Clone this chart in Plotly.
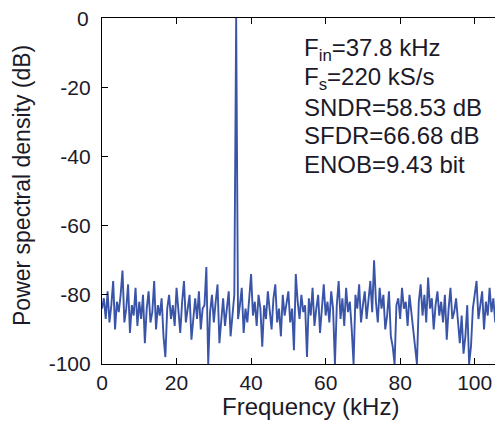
import plotly.graph_objects as go

# PSD values (dB), one per 0.5 kHz bin starting at 0 kHz
psd_db = [
    -84, -81, -87, -79, -88, -83, -76, -90, -82, -85,
    -80, -73, -88, -84, -77, -91, -83, -86, -78, -89,
    -82, -87, -80, -94, -84, -79, -88, -85, -76, -90,
    -83, -86, -81, -92, -98, -84, -80, -87, -83, -89,
    -78, -85, -91, -82, -76, -88, -84, -80, -93, -86,
    -81, -87, -79, -90, -84, -83, -72, -100, -85, -80,
    -88, -82, -77, -94, -86, -81, -89, -84, -79, -92,
    -85, -80, 0, -87, -83, -78, -91, -84, -88, -81,
    -74, -86, -82, -89, -80, -84, -95, -83, -87, -79,
    -85, -90, -81, -77, -88, -84, -92, -80, -86, -83,
    -79, -88, -84, -96, -74, -82, -87, -80, -85, -83,
    -98, -81, -86, -78, -89, -84, -80, -91, -83, -77,
    -86, -82, -88, -79, -84, -100, -83, -76, -87, -81,
    -89, -78, -85, -82, -90, -100, -80, -84, -77, -88,
    -83, -79, -87, -81, -76, -85, -70, -82, -88, -78,
    -84, -80, -90, -86, -79, -92, -95, -100, -83, -81,
    -87, -78, -84, -82, -89, -80, -85, -91, -94, -100,
    -82, -77, -86, -80, -88, -75, -84, -81, -90, -83,
    -79, -86, -82, -88, -80, -93, -84, -78, -87, -85,
    -81, -89, -94, -86, -97, -92, -83, -100, -95, -84,
    -80, -76, -87, -83, -79, -90, -82, -86, -78, -85,
    -81, -88, -84, -79, -86, -83, -80, -87, -82, -85,
]
bin_khz = 0.5
freq_khz = [i * bin_khz for i in range(len(psd_db))]

x_ticks = [0, 20, 40, 60, 80, 100]
y_ticks = [-20, -40, -60, -80, -100]
y_tick_text = ["-20", "-40", "-60", "-80", "-100"]
y_top_label = "0"
info_lines = [
    "F<sub>in</sub>=37.8 kHz",
    "F<sub>s</sub>=220 kS/s",
    "SNDR=58.53 dB",
    "SFDR=66.68 dB",
    "ENOB=9.43 bit",
]

# page body has an 8px margin: work in window pixels, then offset
OFF = 8
PX_PER_KHZ = 3.727
W, H = 503, 430 - 2 * OFF
L, T = 102 - OFF, 18 - OFF
plot_bottom = 364 - OFF
B = H - plot_bottom
R = 0
pw, ph = W - L - R, plot_bottom - T
x_max = pw / PX_PER_KHZ

def px(x):
    return (x - OFF - L) / pw

def py(y):
    return 1 - (y - OFF - T) / ph

font = "Liberation Sans, Arial, sans-serif"
txt = "#1c1a28"

fig = go.Figure()
fig.add_trace(go.Scatter(x=freq_khz, y=psd_db, mode="lines",
                         line=dict(color="#3a55a8", width=1.9),
                         hoverinfo="skip", showlegend=False))

fig.update_layout(
    width=W, height=H,
    margin=dict(l=L, r=R, t=T, b=B),
    paper_bgcolor="white", plot_bgcolor="white",
    font=dict(family=font, color=txt),
)
fig.update_xaxes(range=[0, x_max], tickvals=x_ticks, ticks="inside", ticklen=6,
                 tickcolor="black", showline=True, linecolor="black", linewidth=1.2,
                 mirror="ticks", showgrid=False, zeroline=False,
                 tickfont=dict(size=21, family=font, color=txt))
fig.update_yaxes(range=[-100, 0], tickvals=y_ticks, ticktext=y_tick_text,
                 ticks="inside", ticklen=6, ticklabelstandoff=6,
                 tickcolor="black", showline=True, linecolor="black", linewidth=1.2,
                 showgrid=False, zeroline=False,
                 tickfont=dict(size=21, family=font, color=txt))

# top y tick label (would be dropped at the figure edge)
fig.add_annotation(text=y_top_label, xref="paper", yref="y", x=px(91), y=0,
                   xanchor="right", yanchor="middle", showarrow=False,
                   font=dict(size=21, family=font, color=txt))

centers = [50, 78.5, 107, 135.5, 164]
for t, yc in zip(info_lines, centers):
    fig.add_annotation(text=t, xref="paper", yref="paper", x=px(302), y=py(yc),
                       xanchor="left", yanchor="middle", showarrow=False,
                       font=dict(size=24, family=font, color=txt))

fig.add_annotation(text="Frequency (kHz)", xref="paper", yref="paper",
                   x=px(310), y=py(406), xanchor="center", yanchor="middle",
                   showarrow=False, font=dict(size=24, family=font, color=txt))
fig.add_annotation(text="Power spectral density (dB)", xref="paper", yref="paper",
                   x=px(22), y=py(186), xanchor="center", yanchor="middle",
                   textangle=-90, showarrow=False,
                   font=dict(size=23, family=font, color=txt))

fig.write_html("out.html")
